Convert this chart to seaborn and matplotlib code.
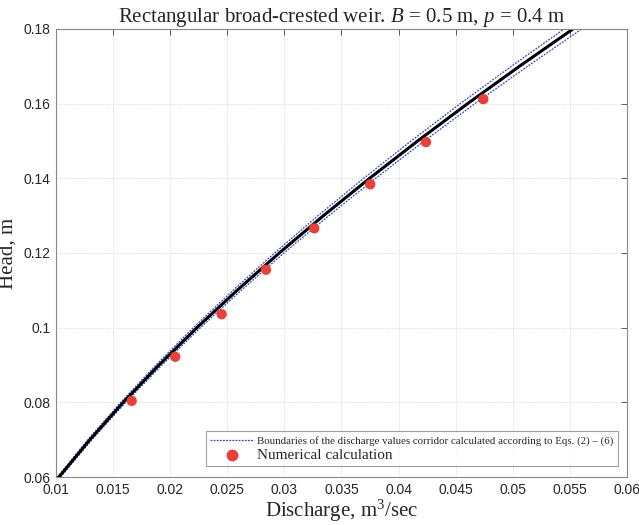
import matplotlib
matplotlib.use("Agg")
import matplotlib.pyplot as plt
import matplotlib.ticker as mticker
from matplotlib.lines import Line2D
import seaborn as sns
import pandas as pd

# Data
head_curve = [0.06, 0.07, 0.08, 0.09, 0.10, 0.11, 0.12, 0.13, 0.14, 0.15, 0.16, 0.17, 0.18]
q_curve = [0.01026, 0.01297, 0.01589, 0.01902, 0.02234, 0.02586, 0.02955,
           0.03342, 0.03746, 0.04167, 0.04604, 0.05058, 0.05527]
q_lower = [0.01012, 0.01279, 0.01567, 0.01875, 0.02203, 0.02550, 0.02914,
           0.03295, 0.03694, 0.04109, 0.04540, 0.04987, 0.05450]
q_upper = [0.01040, 0.01315, 0.01611, 0.01929, 0.02265, 0.02622, 0.02996,
           0.03389, 0.03798, 0.04225, 0.04668, 0.05129, 0.05604]
q_points = [0.01663, 0.02044, 0.02451, 0.02839, 0.03262, 0.03752, 0.0424, 0.04742]
head_points = [0.0804, 0.0922, 0.1036, 0.1155, 0.1266, 0.1384, 0.1497, 0.1612]

x_ticks = [0.01, 0.015, 0.02, 0.025, 0.03, 0.035, 0.04, 0.045, 0.05, 0.055, 0.06]
y_ticks = [0.06, 0.08, 0.10, 0.12, 0.14, 0.16, 0.18]

sns.set_style("white")
plt.rcParams['font.family'] = ['Liberation Sans', 'DejaVu Sans']
plt.rcParams['mathtext.fontset'] = 'custom'
plt.rcParams['mathtext.rm'] = 'Liberation Serif'
plt.rcParams['mathtext.it'] = 'Liberation Serif:italic'

fig = plt.figure(figsize=(6.39, 5.25), dpi=100)
ax = fig.add_axes([0.0876, 0.0914, 0.8936, 0.8534])

curve_df = pd.DataFrame({"q": q_curve, "h": head_curve})
low_df = pd.DataFrame({"q": q_lower, "h": head_curve})
up_df = pd.DataFrame({"q": q_upper, "h": head_curve})
pts_df = pd.DataFrame({"q": q_points, "h": head_points})

blue = '#3344cc'
sns.lineplot(data=low_df, x="q", y="h", ax=ax, color=blue, lw=0.9,
             linestyle=(0, (1.5, 1)), sort=False, estimator=None)
sns.lineplot(data=up_df, x="q", y="h", ax=ax, color=blue, lw=0.9,
             linestyle=(0, (1.5, 1)), sort=False, estimator=None)
sns.lineplot(data=curve_df, x="q", y="h", ax=ax, color='black', lw=2.2,
             sort=False, estimator=None)
sns.scatterplot(data=pts_df, x="q", y="h", ax=ax, color='#e8403a', s=55,
                edgecolor='none', zorder=5)

ax.set_xlim(0.01, 0.06)
ax.set_ylim(0.06, 0.18)
ax.set_xticks(x_ticks)
ax.set_yticks(y_ticks)
fmt = mticker.FuncFormatter(lambda v, p: f"{v:g}")
ax.xaxis.set_major_formatter(fmt)
ax.yaxis.set_major_formatter(fmt)
ax.tick_params(direction='in', length=4, width=0.6, color='#444444',
               labelsize=10, top=True, right=True, pad=4)
ax.grid(True, color='#dddddd', linestyle=(0, (1, 1)), lw=0.7)
for s in ax.spines.values():
    s.set_color('#888888')
    s.set_linewidth(0.8)

ax.set_title(r"Rectangular broad-crested weir. $\it{B}$ = 0.5 m, $\it{p}$ = 0.4 m",
             fontsize=15, family='Liberation Serif', pad=5)
ax.set_xlabel(r"Discharge, m$^3$/sec", fontsize=15, family='Liberation Serif', labelpad=1)
ax.set_ylabel("Head, m", fontsize=15, family='Liberation Serif')
ax.yaxis.set_label_coords(-0.067, 0.5)

h1 = Line2D([], [], color=blue, lw=0.9, linestyle=(0, (1.5, 1)))
h2 = Line2D([], [], color='#e8403a', marker='o', ms=7.5, linestyle='none')
leg = ax.legend([h1, h2],
                ["Boundaries of the discharge values corridor calculated according to Eqs. (2) – (6)",
                 "Numerical calculation"],
                loc='lower right', bbox_to_anchor=(0.993, 0.012), frameon=True,
                fancybox=False, edgecolor='#888888', handlelength=4.0,
                borderpad=0.4, labelspacing=0.3, handletextpad=0.3,
                prop={'family': 'Liberation Serif', 'size': 7.8})
leg.get_frame().set_linewidth(0.8)
leg.get_texts()[1].set_fontsize(11)
for ln in leg.get_lines():
    ln.set_linewidth(0.9)

fig.savefig("out.png", dpi=100)
